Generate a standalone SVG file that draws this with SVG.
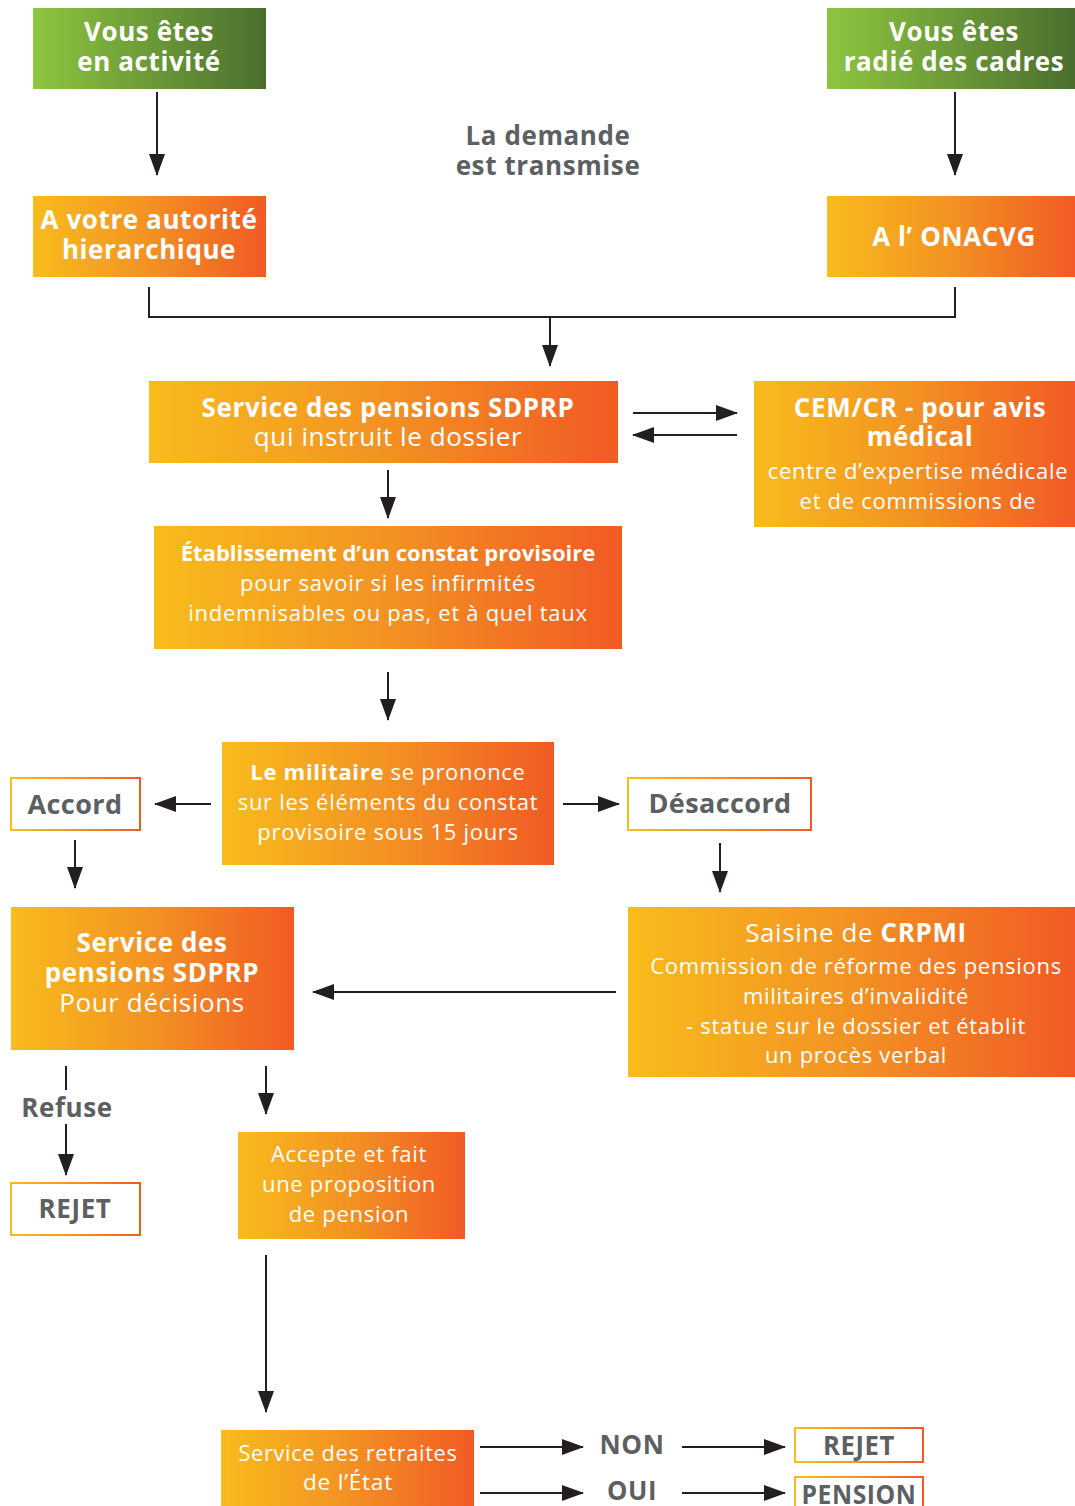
<svg xmlns="http://www.w3.org/2000/svg" width="1075" height="1506" viewBox="0 0 1075 1506">
<defs>
<linearGradient id="gGreen" x1="0" y1="0" x2="1" y2="0"><stop offset="0" stop-color="#8DC63F"/><stop offset="1" stop-color="#4B6E2F"/></linearGradient>
<linearGradient id="gOrange" x1="0" y1="0" x2="1" y2="0"><stop offset="0" stop-color="#F8BC1C"/><stop offset="0.5" stop-color="#F39223"/><stop offset="1" stop-color="#F15A24"/></linearGradient>
<marker id="ah" markerUnits="userSpaceOnUse" markerWidth="22" markerHeight="16" refX="21" refY="8" orient="auto"><path d="M0,0 L22,8 L0,16 z" fill="#231F20"/></marker>
<style>
text{font-family:"Open Sans","Noto Sans","Liberation Sans",sans-serif;text-anchor:middle}
.w{fill:#fff}
.g{fill:#5C6062;font-weight:bold;letter-spacing:0.4px}
.b{font-weight:bold}
.t26{font-size:26px;letter-spacing:0.6px}
.t22{font-size:22px;letter-spacing:0.7px}
.b.t22{letter-spacing:0}
.t28{font-size:27px}
.c{stroke:#231F20;stroke-width:2;fill:none}
.a{stroke:#231F20;stroke-width:2;fill:none;marker-end:url(#ah)}
.ob{fill:#fff;stroke:url(#gOrange);stroke-width:2}
</style>
</defs>
<g id="n-activite"><rect x="33" y="8" width="233" height="81" fill="url(#gGreen)"/><text class="w b t26" x="149" y="41">Vous êtes</text><text class="w b t26" x="149" y="71">en activité</text></g>
<g id="n-radie"><rect x="827" y="8" width="248" height="81" fill="url(#gGreen)"/><text class="w b t26" x="954" y="41">Vous êtes</text><text class="w b t26" x="954" y="71">radié des cadres</text></g>
<g id="n-transmise"><text class="g t26" x="548" y="145">La demande</text><text class="g t26" x="548" y="175">est transmise</text></g>
<g id="n-autorite"><rect x="33" y="196" width="233" height="81" fill="url(#gOrange)"/><text class="w b t26" x="149" y="229">A votre autorité</text><text class="w b t26" x="149" y="259">hierarchique</text></g>
<g id="n-onacvg"><rect x="827" y="196" width="248" height="81" fill="url(#gOrange)"/><text class="w b t26" x="954" y="246">A l’ ONACVG</text></g>
<g id="n-sdprp"><rect x="149" y="381" width="469" height="82" fill="url(#gOrange)"/><text class="w b t26" x="388" y="417">Service des pensions SDPRP</text><text class="w t26" x="388" y="446">qui instruit le dossier</text></g>
<g id="n-cem"><rect x="754" y="381" width="321" height="146" fill="url(#gOrange)"/><text class="w b t26" x="920" y="417">CEM/CR - pour avis</text><text class="w b t26" x="920" y="446">médical</text><text class="w t22" x="918" y="479">centre d’expertise médicale</text><text class="w t22" x="918" y="509">et de commissions de</text></g>
<g id="n-constat"><rect x="154" y="526" width="468" height="123" fill="url(#gOrange)"/><text class="w b t22" x="388" y="561">Établissement d’un constat provisoire</text><text class="w t22" x="388" y="591">pour savoir si les infirmités</text><text class="w t22" x="388" y="621">indemnisables ou pas, et à quel taux</text></g>
<g id="n-militaire"><rect x="222" y="742" width="332" height="123" fill="url(#gOrange)"/><text class="w t22" x="388" y="780"><tspan class="b">Le militaire</tspan> se prononce</text><text class="w t22" x="388" y="810">sur les éléments du constat</text><text class="w t22" x="388" y="840">provisoire sous 15 jours</text></g>
<g id="n-accord"><rect class="ob" x="11" y="778" width="129" height="52"/><text class="g t28" x="75" y="814">Accord</text></g>
<g id="n-desaccord"><rect class="ob" x="628" y="778" width="183" height="52"/><text class="g t28" x="720" y="813">Désaccord</text></g>
<g id="n-decisions"><rect x="11" y="907" width="283" height="143" fill="url(#gOrange)"/><text class="w b t26" x="152" y="952">Service des</text><text class="w b t26" x="152" y="982">pensions SDPRP</text><text class="w t26" x="152" y="1012">Pour décisions</text></g>
<g id="n-crpmi"><rect x="628" y="907" width="447" height="170" fill="url(#gOrange)"/><text class="w t26" x="856" y="942">Saisine de <tspan class="b">CRPMI</tspan></text><text class="w t22" x="856" y="974">Commission de réforme des pensions</text><text class="w t22" x="856" y="1004">militaires d’invalidité</text><text class="w t22" x="856" y="1034">- statue sur le dossier et établit</text><text class="w t22" x="856" y="1063">un procès verbal</text></g>
<g id="n-refuse"><text class="g t26" x="67" y="1117">Refuse</text></g>
<g id="n-rejet1"><rect class="ob" x="11" y="1183" width="129" height="52"/><text class="g t26" x="75" y="1218">REJET</text></g>
<g id="n-accepte"><rect x="238" y="1132" width="227" height="107" fill="url(#gOrange)"/><text class="w t22" x="349" y="1162">Accepte et fait</text><text class="w t22" x="349" y="1192">une proposition</text><text class="w t22" x="349" y="1222">de pension</text></g>
<g id="n-retraites"><rect x="221" y="1430" width="253" height="80" fill="url(#gOrange)"/><text class="w t22" x="348" y="1461" textLength="219" lengthAdjust="spacingAndGlyphs">Service des retraites</text><text class="w t22" x="348" y="1490" textLength="90" lengthAdjust="spacingAndGlyphs">de l’État</text></g>
<g id="n-non"><text class="g t26" x="632" y="1454" textLength="65" lengthAdjust="spacingAndGlyphs">NON</text></g>
<g id="n-oui"><text class="g t26" x="632" y="1500" textLength="50" lengthAdjust="spacingAndGlyphs">OUI</text></g>
<g id="n-rejet2"><rect class="ob" x="795" y="1428" width="128" height="34"/><text class="g t26" x="859" y="1455" textLength="72" lengthAdjust="spacingAndGlyphs">REJET</text></g>
<g id="n-pension"><rect class="ob" x="795" y="1477" width="128" height="40"/><text class="g t26" x="859" y="1504" textLength="115" lengthAdjust="spacingAndGlyphs">PENSION</text></g>
<g id="connectors">
<line class="a" x1="157" y1="92" x2="157" y2="175"/>
<line class="a" x1="955" y1="92" x2="955" y2="175"/>
<polyline class="c" points="149,287 149,317 955,317 955,287"/>
<line class="a" x1="550" y1="317" x2="550" y2="366"/>
<line class="a" x1="633" y1="413" x2="737" y2="413"/>
<line class="a" x1="737" y1="435" x2="633" y2="435"/>
<line class="a" x1="388" y1="470" x2="388" y2="518"/>
<line class="a" x1="388" y1="672" x2="388" y2="720"/>
<line class="a" x1="211" y1="804" x2="155" y2="804"/>
<line class="a" x1="563" y1="804" x2="619" y2="804"/>
<line class="a" x1="75" y1="840" x2="75" y2="888"/>
<line class="a" x1="720" y1="843" x2="720" y2="892"/>
<line class="a" x1="616" y1="992" x2="313" y2="992"/>
<line class="c" x1="66" y1="1066" x2="66" y2="1090"/>
<line class="a" x1="66" y1="1124" x2="66" y2="1175"/>
<line class="a" x1="266" y1="1066" x2="266" y2="1114"/>
<line class="a" x1="266" y1="1255" x2="266" y2="1412"/>
<line class="a" x1="480" y1="1447" x2="583" y2="1447"/>
<line class="a" x1="480" y1="1493" x2="583" y2="1493"/>
<line class="a" x1="682" y1="1447" x2="785" y2="1447"/>
<line class="a" x1="682" y1="1493" x2="785" y2="1493"/>
</g>
</svg>
